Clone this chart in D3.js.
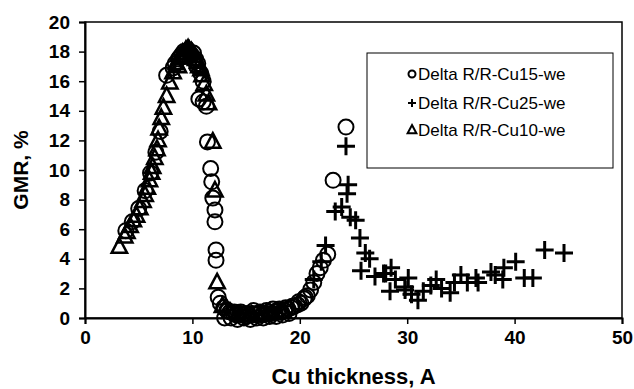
<!DOCTYPE html>
<html>
<head>
<meta charset="utf-8">
<script src="https://cdn.jsdelivr.net/npm/d3@7"></script>
<style>
	body { margin: 0; background: #fff; }
	svg { display: block; font-family: 'Liberation Sans', Arial, sans-serif; }
</style>
</head>
<body>
<svg id="chart" width="634" height="389"></svg>
<script>
// Données
const cu10X = [3.2, 3.7, 3.9, 4.2, 4.5, 4.8, 5.1, 5.4, 5.6, 5.8, 6.0, 6.2, 6.3, 6.5, 6.7, 6.8, 6.9, 7.1, 7.3, 7.6, 7.9, 8.2, 8.5, 8.8, 9.1, 9.4, 9.7, 10.0, 10.3, 10.6, 10.9, 11.1, 11.3, 11.5, 11.9, 12.1, 12.3, 12.8, 13.5, 14.5, 15.5, 16.5, 17.5, 18.5, 9.0, 9.3, 9.6, 9.9, 10.2, 10.5, 8.7, 10.8];
const cu10Y = [4.8, 5.5, 5.8, 6.2, 6.6, 6.9, 7.4, 7.9, 8.3, 8.8, 9.3, 9.8, 10.2, 10.8, 11.4, 12.0, 12.8, 13.5, 14.2, 15.0, 15.9, 16.6, 17.2, 17.6, 17.9, 18.1, 18.1, 17.9, 17.5, 17.0, 16.4, 15.8, 15.1, 14.5, 11.9, 8.6, 2.4, 0.8, 0.4, 0.2, 0.2, 0.2, 0.3, 0.4, 17.6, 17.9, 18.2, 18.0, 17.7, 17.3, 17.0, 16.8];

const cu15X = [3.8, 4.4, 5.0, 5.6, 6.1, 6.6, 7.0, 7.6, 8.2, 8.8, 9.4, 9.9, 10.4, 10.6, 11.0, 11.3, 11.4, 11.7, 11.8, 11.9, 12.1, 12.1, 12.2, 12.2, 12.4, 12.6, 12.9, 13.2, 13.5, 13.8, 14.1, 14.4, 14.7, 15.0, 15.3, 15.6, 15.9, 16.2, 16.5, 16.8, 17.1, 17.4, 17.7, 18.0, 18.3, 18.6, 18.9, 19.2, 19.5, 19.8, 20.1, 20.4, 20.7, 21.0, 21.3, 21.6, 21.9, 22.2, 22.6, 23.1, 24.3, 13.0, 13.6, 14.2, 14.8, 15.4, 16.0, 16.6, 17.2, 17.8, 18.4, 19.0, 8.4, 8.7, 9.0, 9.2, 9.6, 10.1, 10.3, 10.5, 10.8, 11.0, 13.3, 13.9, 14.5, 15.1, 15.7, 16.3, 16.9, 17.5, 18.1, 18.7, 19.3, 19.9, 20.5];
const cu15Y = [5.9, 6.5, 7.4, 8.6, 9.8, 11.2, 12.6, 16.4, 16.9, 17.6, 17.9, 17.8, 17.0, 14.8, 14.6, 14.3, 11.9, 10.1, 9.2, 8.1, 7.3, 6.5, 4.6, 3.9, 1.4, 1.0, 0.7, 0.5, 0.4, 0.3, 0.2, 0.3, 0.2, 0.1, 0.2, 0.3, 0.2, 0.3, 0.2, 0.3, 0.4, 0.3, 0.4, 0.5, 0.4, 0.5, 0.6, 0.7, 0.8, 0.9, 1.0, 1.3, 1.5, 1.9, 2.4, 3.0, 3.4, 3.9, 4.3, 9.3, 12.9, 0.0, 0.0, -0.1, 0.0, -0.1, 0.0, 0.0, 0.1, 0.1, 0.2, 0.3, 17.2, 17.5, 17.8, 18.0, 18.1, 17.9, 17.5, 17.2, 16.5, 16.0, 0.5, 0.4, 0.4, 0.3, 0.5, 0.4, 0.5, 0.6, 0.6, 0.7, 0.8, 1.1, 1.4];

const cu25X = [21.3, 22.0, 22.4, 23.3, 23.9, 24.3, 24.4, 24.5, 24.7, 25.2, 25.6, 26.1, 25.7, 26.5, 27.0, 27.8, 28.0, 28.4, 28.5, 28.9, 29.8, 30.1, 29.8, 30.4, 31.0, 31.5, 32.2, 32.7, 33.2, 34.0, 34.4, 35.0, 35.6, 36.4, 36.6, 37.8, 38.2, 39.0, 38.9, 40.1, 40.9, 41.7, 42.8, 44.6];
const cu25Y = [2.6, 3.8, 4.9, 7.2, 7.5, 11.6, 8.4, 9.0, 6.8, 6.6, 5.4, 4.4, 3.2, 4.0, 2.8, 3.0, 3.0, 1.8, 3.4, 2.6, 2.1, 2.7, 1.9, 1.6, 1.2, 1.8, 2.2, 2.6, 2.0, 1.7, 2.4, 2.9, 2.4, 2.7, 2.4, 3.1, 2.9, 3.4, 2.6, 3.8, 2.7, 2.7, 4.6, 4.4];

const xTicks = [0, 10, 20, 30, 40, 50];
const yTicks = [0, 2, 4, 6, 8, 10, 12, 14, 16, 18, 20];
const legendLabels = ['Delta R/R-Cu15-we', 'Delta R/R-Cu25-we', 'Delta R/R-Cu10-we'];

const svg = d3.select('#chart');

const plotLeft = 85, plotRight = 622, plotTop = 22, plotBottom = 318;

const xScale = d3.scaleLinear().domain([0, 50]).range([plotLeft, plotRight]);
const yScale = d3.scaleLinear().domain([0, 20]).range([plotBottom, plotTop]);

// Cadre de la zone de tracé
svg.append('rect')
	.attr('x', plotLeft).attr('y', plotTop)
	.attr('width', plotRight - plotLeft).attr('height', plotBottom - plotTop)
	.attr('fill', 'none').attr('stroke', '#000').attr('stroke-width', 1.5);

// Axes
const xAxis = svg.append('g')
	.attr('transform', `translate(0,${plotBottom})`)
	.call(d3.axisBottom(xScale).tickValues(xTicks).tickSize(6).tickPadding(7));

const yAxis = svg.append('g')
	.attr('transform', `translate(${plotLeft},0)`)
	.call(d3.axisLeft(yScale).tickValues(yTicks).tickSize(6).tickPadding(9));

[xAxis, yAxis].forEach((g) => {
	g.select('.domain').attr('stroke', '#000').attr('stroke-width', 2);
	g.selectAll('.tick line').attr('stroke', '#000').attr('stroke-width', 1.5);
	g.selectAll('.tick text')
		.attr('fill', '#000')
		.attr('font-family', "'Liberation Sans', Arial, sans-serif")
		.attr('font-size', '19px')
		.attr('font-weight', 'bold');
});

// Titres des axes
svg.append('text')
	.attr('x', (plotLeft + plotRight) / 2).attr('y', 384)
	.attr('text-anchor', 'middle')
	.attr('font-size', '22px').attr('font-weight', 'bold')
	.text('Cu thickness, A');

svg.append('text')
	.attr('transform', `translate(28,${(plotTop + plotBottom) / 2}) rotate(-90)`)
	.attr('text-anchor', 'middle')
	.attr('font-size', '21px').attr('font-weight', 'bold')
	.text('GMR, %');

// Symboles
const triPath = (s) => `M0,${-s * 0.62}L${s * 0.55},${s * 0.42}L${-s * 0.55},${s * 0.42}Z`;
const plusPath = (s) => `M${-s},0H${s}M0,${-s}V${s}`;

const drawCircles = (g, xs, ys, r, w) => {
	g.selectAll('circle')
		.data(xs.map((x, i) => [x, ys[i]]))
		.enter()
		.append('circle')
		.attr('cx', (d) => xScale(d[0]))
		.attr('cy', (d) => yScale(d[1]))
		.attr('r', r)
		.attr('fill', 'none')
		.attr('stroke', '#000')
		.attr('stroke-width', w);
};

const drawPaths = (g, xs, ys, d, w) => {
	g.selectAll('path')
		.data(xs.map((x, i) => [x, ys[i]]))
		.enter()
		.append('path')
		.attr('transform', (p) => `translate(${xScale(p[0])},${yScale(p[1])})`)
		.attr('d', d)
		.attr('fill', 'none')
		.attr('stroke', '#000')
		.attr('stroke-width', w);
};

drawPaths(svg.append('g'), cu10X, cu10Y, triPath(14), 2.5);
drawCircles(svg.append('g'), cu15X, cu15Y, 7.5, 2);
drawPaths(svg.append('g'), cu25X, cu25Y, plusPath(9), 3);

// Légende
const legend = svg.append('g');
legend.append('rect')
	.attr('x', 367).attr('y', 53).attr('width', 246).attr('height', 115)
	.attr('fill', '#fff').attr('stroke', '#000').attr('stroke-width', 1);

const legendY = [74, 103, 130];
legendLabels.forEach((label, i) => {
	const y = legendY[i];
	if (i === 0) {
		legend.append('circle').attr('cx', 412).attr('cy', y).attr('r', 3.5)
			.attr('fill', 'none').attr('stroke', '#000').attr('stroke-width', 2);
	} else if (i === 1) {
		legend.append('path').attr('transform', `translate(412,${y})`).attr('d', plusPath(4))
			.attr('stroke', '#000').attr('stroke-width', 2);
	} else {
		legend.append('path').attr('transform', `translate(412,${y})`).attr('d', triPath(8))
			.attr('fill', 'none').attr('stroke', '#000').attr('stroke-width', 2);
	}
	legend.append('text')
		.attr('x', 418).attr('y', y + 6)
		.attr('font-size', '17px')
		.text(label);
});
</script>
</body>
</html>
